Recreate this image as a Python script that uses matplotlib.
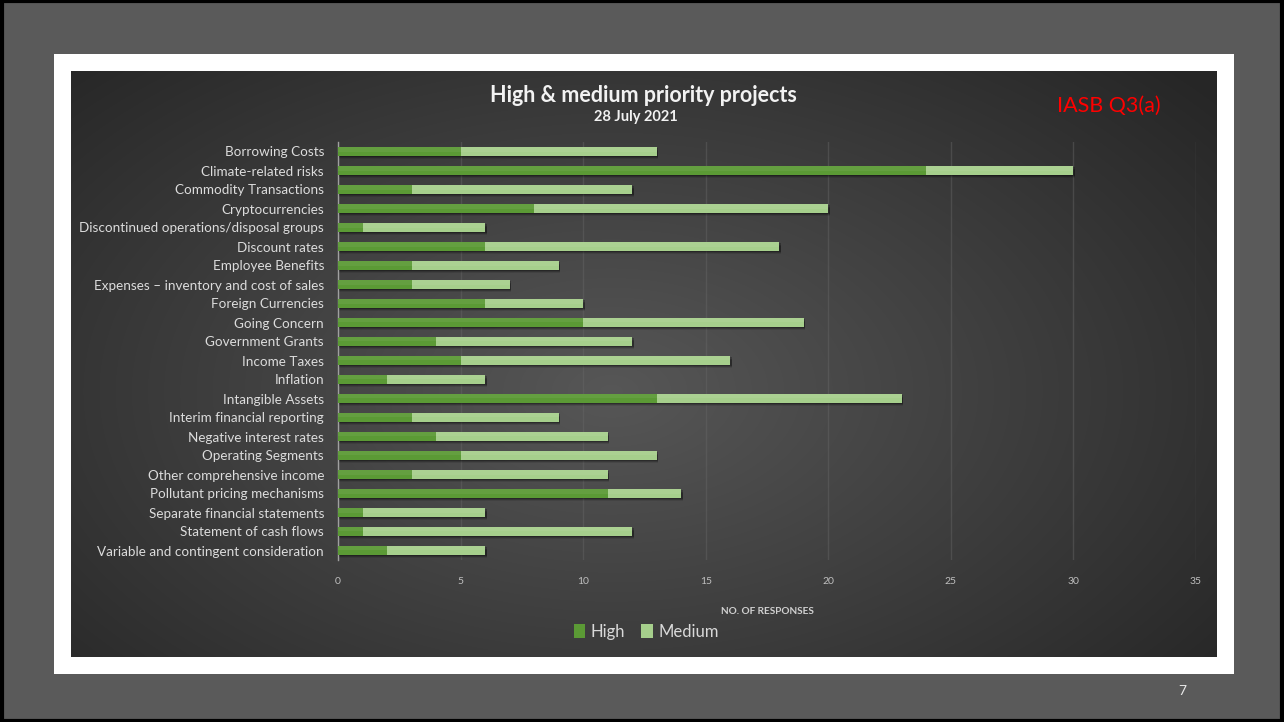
import matplotlib.pyplot as plt
import numpy as np
from matplotlib.patches import Rectangle

projects = [
    "Borrowing Costs", "Climate-related risks", "Commodity Transactions",
    "Cryptocurrencies", "Discontinued operations/disposal groups",
    "Discount rates", "Employee Benefits",
    "Expenses \u2013 inventory and cost of sales", "Foreign Currencies",
    "Going Concern", "Government Grants", "Income Taxes", "Inflation",
    "Intangible Assets", "Interim financial reporting",
    "Negative interest rates", "Operating Segments",
    "Other comprehensive income", "Pollutant pricing mechanisms",
    "Separate financial statements", "Statement of cash flows",
    "Variable and contingent consideration",
]
high = [5, 24, 3, 8, 1, 6, 3, 3, 6, 10, 4, 5, 2, 13, 3, 4, 5, 3, 11, 1, 1, 2]
medium = [8, 6, 9, 12, 5, 12, 6, 4, 4, 9, 8, 11, 4, 10, 6, 7, 8, 8, 3, 5, 11, 4]
x_ticks = [0, 5, 10, 15, 20, 25, 30, 35]

W, H = 1284, 722
plt.rcParams['font.family'] = ['Lato', 'DejaVu Sans']

fig = plt.figure(figsize=(W / 100, H / 100), dpi=100)
fig.patch.set_facecolor('#5a5a5a')


def box(x0, y0, x1, y1):
    # pixel box (top-left origin) -> figure fraction rect
    return [x0 / W, 1 - y1 / H, (x1 - x0) / W, (y1 - y0) / H]


# slide frame and white panel (negative zorder keeps them under the axes)
fig.patches.append(Rectangle((0.0015, 0.002), 0.997, 0.996, transform=fig.transFigure,
                             fill=False, edgecolor='black', linewidth=3, zorder=-2))
l, b, w, h = box(54, 54, 1234, 674)
fig.patches.append(Rectangle((l, b), w, h, transform=fig.transFigure,
                             facecolor='white', edgecolor='none', zorder=-2))

# dark chart area with radial gradient
bg = fig.add_axes(box(71, 71, 1217, 657), zorder=-1)
bg.set_axis_off()
yy, xx = np.mgrid[0:586, 0:1146]
r = np.sqrt(((xx - 540) / 700.0) ** 2 + ((yy - 320) / 420.0) ** 2)
shade = np.clip(0.34 - 0.17 * r, 0.15, 0.34)
bg.imshow(np.dstack([shade] * 3), aspect='auto', interpolation='bilinear')

ax = fig.add_axes(box(338, 142, 1196, 560))
ax.set_facecolor('none')
pos = np.arange(len(projects))
bar_h = 0.45

# soft drop shadow below each bar
totals = np.array(high) + np.array(medium)
for dy, a in [(0.06, 0.25), (0.12, 0.18), (0.18, 0.1)]:
    ax.barh(pos + dy, totals + 0.06, height=bar_h, color='black', alpha=a, zorder=2)
ax.barh(pos, high, height=bar_h, color='#5b9a35', label='High', zorder=3)
ax.barh(pos, medium, left=high, height=bar_h, color='#a6cf8c', label='Medium', zorder=3)
# lighter top half on bars
ax.barh(pos - bar_h / 4, totals, height=bar_h / 2, color='white', alpha=0.06, zorder=4)

ax.set_xlim(0, 35)
ax.set_ylim(len(projects) - 0.5, -0.5)
ax.set_xticks(x_ticks)
ax.set_yticks(pos)
ax.set_yticklabels(projects, fontsize=9.7, color='#dcdcdc')
ax.tick_params(axis='x', colors='#bfbfbf', labelsize=7.5, length=0, pad=12)
ax.tick_params(axis='y', length=0, pad=10)
ax.grid(axis='x', color='#666666', linewidth=1, alpha=0.45, zorder=1)
ax.set_axisbelow(True)
for s in ['top', 'right', 'bottom']:
    ax.spines[s].set_visible(False)
ax.spines['left'].set_color('#a0a0a0')
ax.spines['left'].set_linewidth(1)

fig.text(643 / W, 1 - 95 / H, 'High & medium priority projects', ha='center', va='center',
         fontsize=15.5, fontweight='bold', color='#f2f2f2')
fig.text(636 / W, 1 - 117 / H, '28 July 2021', ha='center', va='center',
         fontsize=10.5, fontweight='bold', color='#f2f2f2')
fig.text(1109 / W, 1 - 106 / H, 'IASB Q3(a)', ha='center', va='center',
         fontsize=15.5, color='#ff0000')
fig.text(767 / W, 1 - 611 / H, 'NO. OF RESPONSES', ha='center', va='center',
         fontsize=7.2, fontweight='bold', color='#d0d0d0')
fig.legend(loc='center', bbox_to_anchor=(646 / W, 1 - 632 / H), ncol=2, frameon=False,
           fontsize=12, labelcolor='#d9d9d9', handlelength=0.7, handleheight=0.9,
           handletextpad=0.3, columnspacing=1.0)
fig.text(1182 / W, 1 - 691 / H, '7', ha='center', va='center', fontsize=10, color='#e8e8e8')

fig.savefig('out.png', dpi=100, facecolor=fig.get_facecolor())
